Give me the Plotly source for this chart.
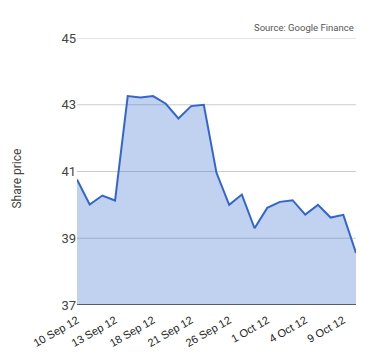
import plotly.graph_objects as go

dates = ["10 Sep 12", "11 Sep 12", "12 Sep 12", "13 Sep 12", "14 Sep 12", "17 Sep 12",
         "18 Sep 12", "19 Sep 12", "20 Sep 12", "21 Sep 12", "24 Sep 12", "25 Sep 12",
         "26 Sep 12", "27 Sep 12", "28 Sep 12", "1 Oct 12", "2 Oct 12", "3 Oct 12",
         "4 Oct 12", "5 Oct 12", "8 Oct 12", "9 Oct 12", "10 Oct 12"]
prices = [40.76, 40.01, 40.28, 40.13, 43.26, 43.22, 43.26, 43.03, 42.59, 42.96, 43.0,
          40.96, 40.0, 40.31, 39.30, 39.91, 40.09, 40.14, 39.71, 40.0, 39.62, 39.70, 38.56]
tick_labels = ["10 Sep 12", "13 Sep 12", "18 Sep 12", "21 Sep 12", "26 Sep 12",
               "1 Oct 12", "4 Oct 12", "9 Oct 12"]
y_ticks = [37, 39, 41, 43, 45]

xs = list(range(len(dates)))
tickvals = [dates.index(t) for t in tick_labels]

fig = go.Figure()
fig.add_trace(go.Scatter(
    x=xs, y=prices, mode="lines", fill="tozeroy",
    line=dict(color="#3366cc", width=2),
    fillcolor="rgba(51,102,204,0.3)", hoverinfo="skip"))

shapes = [dict(type="line", xref="paper", yref="y", x0=0, x1=1, y0=v, y1=v,
               line=dict(color="#cccccc", width=1), layer="below") for v in y_ticks[1:]]
shapes.append(dict(type="line", xref="paper", yref="y", x0=0, x1=1, y0=y_ticks[0], y1=y_ticks[0],
                   line=dict(color="#333", width=1.5)))

fig.update_layout(
    width=380, height=360,
    margin=dict(l=77, r=24, t=38, b=55),
    paper_bgcolor="white", plot_bgcolor="white",
    showlegend=False,
    font=dict(family="Arial, Liberation Sans, sans-serif", color="#222"),
    xaxis=dict(range=[0, len(dates) - 1], tickvals=tickvals, ticktext=tick_labels,
               tickangle=-30, showgrid=False, zeroline=False, showline=False,
               tickfont=dict(size=11, color="#222"), ticks="", ticklabelstandoff=6),
    yaxis=dict(range=[37, 45], tickvals=y_ticks, showgrid=False,
               zeroline=False, showline=False,
               tickfont=dict(family="Roboto, sans-serif", size=13, color="#444"), ticks=""),
    shapes=shapes,
    annotations=[
        dict(text="Source: Google Finance", xref="paper", yref="paper",
             x=1, y=1, xanchor="right", yanchor="bottom", yshift=3,
             showarrow=False, font=dict(family="Roboto, sans-serif", size=9.5, color="#555")),
        dict(text="Share price", xref="paper", yref="paper", x=0, y=0.5,
             xshift=-61, yshift=-7, textangle=-90, showarrow=False,
             xanchor="center", yanchor="middle",
             font=dict(family="Roboto, sans-serif", size=12, color="#444")),
    ],
)

fig.write_html("out.html")
